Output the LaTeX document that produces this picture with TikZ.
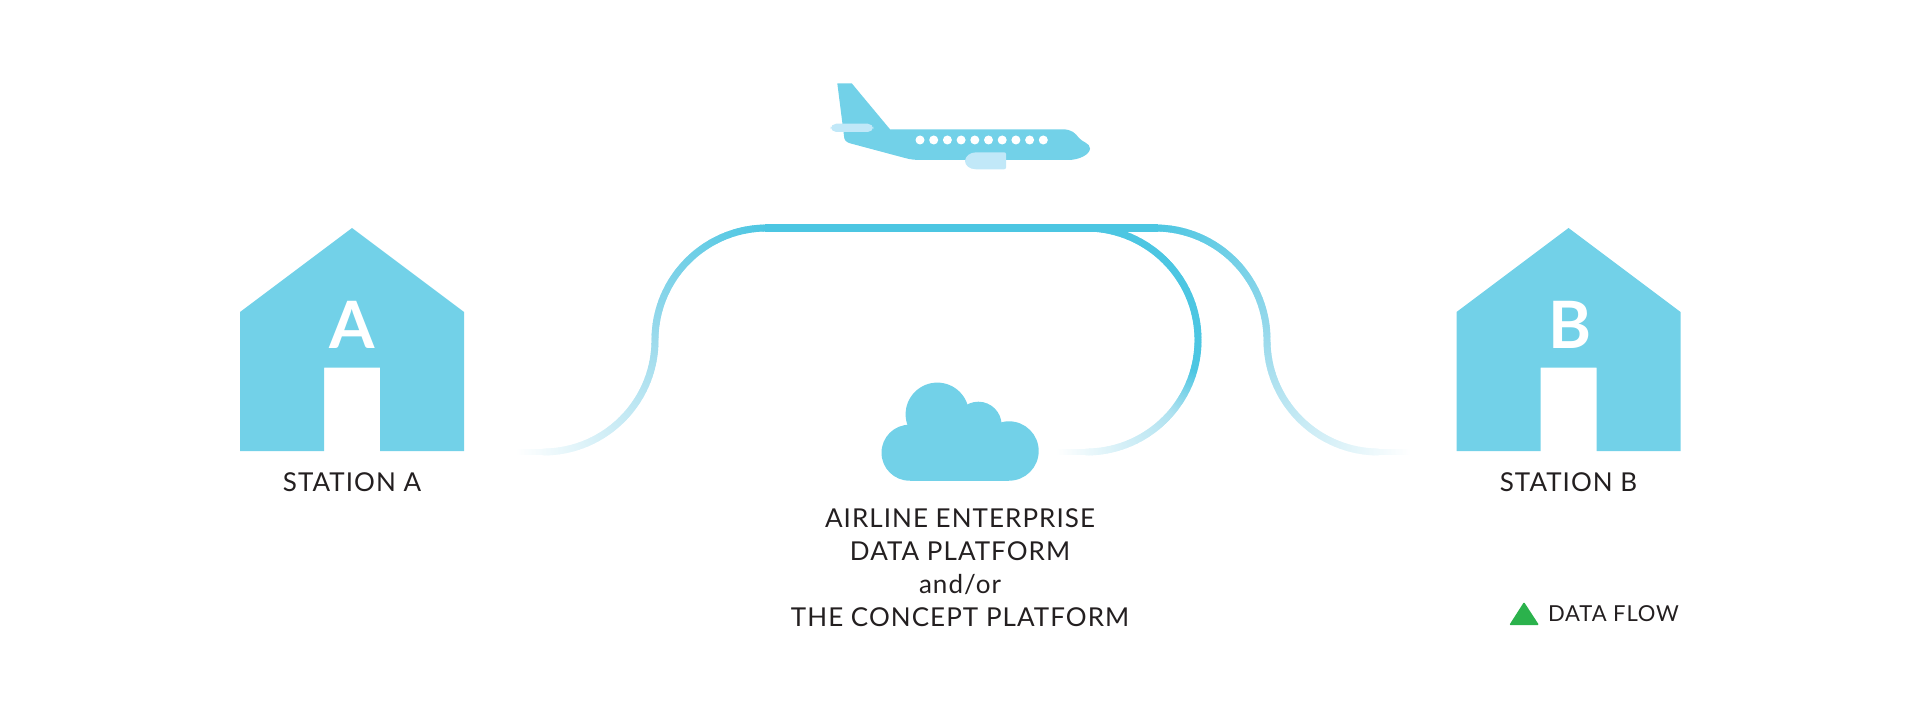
\documentclass[tikz,border=0pt]{standalone}
\usepackage{fontspec}
\setmainfont[LetterSpace=4]{Lato}
\usetikzlibrary{decorations.markings}

\definecolor{housecol}{HTML}{72D1E8}
\definecolor{flowtopcol}{HTML}{4CC6E2}
\definecolor{flowmidcol}{HTML}{9BDAEC}
\definecolor{flowpalecol}{HTML}{B0E2F0}
\definecolor{palecol}{HTML}{C1E8F8}
\definecolor{textcol}{HTML}{231F20}
\definecolor{legendcol}{HTML}{2BB24C}

\newcommand{\flowseg}[3]{%
	\pgfmathsetmacro\segpos{\pgfkeysvalueof{/pgf/decoration/mark info/distance from start}/\pgfdecoratedpathlength}%
	\ifdim\segpos pt<#2pt
		\pgfmathsetmacro\segpct{min(100,100*\segpos/#2)}\colorlet{segcol}{#1!\segpct!white}%
	\else
		\pgfmathsetmacro\segpct{min(100,100*(\segpos-#2)/(#3-#2))}\colorlet{segcol}{flowtopcol!\segpct!#1}%
	\fi
	\draw[segcol,line width=5.2pt] (-0.8pt,0pt) -- (0.8pt,0pt);%
}

\tikzset{
	shapefill/.style={fill=housecol,draw=none},
	palefill/.style={fill=palecol,draw=none},
	flowfade/.style n args={3}{decoration={markings,mark=between positions 0 and 0.995 step 1pt with {\flowseg{#1}{#2}{#3}}},postaction={decorate}},
	flowsolid/.style={draw=flowtopcol,line width=5.6pt},
	stationlabel/.style={text=textcol,font=\fontsize{19.5}{24}\selectfont,inner sep=0pt},
	houseletter/.style={text=white,font=\fontsize{49}{50}\bfseries\selectfont,inner sep=0pt},
}

\begin{document}
\begin{tikzpicture}[x=0.75pt,y=0.75pt,yscale=-1,xscale=1]
	\useasboundingbox (0,0) rectangle (1920,720);

	%Shape: Plane
	\fill [shapefill] (837.3,83.3) -- (851.7,83.3) -- (890,129.3) -- (1062,129.3) .. controls (1072,129.3) and (1075,133) .. (1079,138) .. controls (1082,142) and (1090,143) .. (1090,148.5) .. controls (1090,154) and (1080,160) .. (1068,160) -- (922,160) .. controls (915,160) and (910,159.5) .. (905,158) -- (850,143.3) .. controls (846,142) and (844,140) .. (844,136) -- cycle ;
	\fill [palefill, rounded corners=4.1] (830.7,123.7) rectangle (873.3,132) ;
	\foreach \i in {0,...,9}
		\fill [white] (920+13.7*\i,140) circle [radius=4.5] ;
	\fill [palefill] (1006,154) -- (1006,167.5) .. controls (1006,168.8) and (1005,169.3) .. (1004,169.3) -- (976,169.3) .. controls (969,169.3) and (965,165) .. (965,161) .. controls (965,156.5) and (970,152.3) .. (976,152.3) -- (1004,152.3) .. controls (1005,152.3) and (1006,153) .. (1006,154) -- cycle ;

	%Shape: House A
	\fill [shapefill] (240,451) -- (240,312) -- (352,228) -- (464,312) -- (464,451) -- (380,451) -- (380,367.5) -- (324,367.5) -- (324,451) -- cycle ;
	%Shape: House B
	\fill [shapefill] (1456.5,451) -- (1456.5,312) -- (1568.5,228) -- (1680.5,312) -- (1680.5,451) -- (1596.5,451) -- (1596.5,367.5) -- (1540.5,367.5) -- (1540.5,451) -- cycle ;

	%Shape: Cloud
	\fill [shapefill] (909.5,452.7) circle [radius=28] ;
	\fill [shapefill] (1009,451) circle [radius=29.7] ;
	\fill [shapefill] (937.3,414.3) circle [radius=31.7] ;
	\fill [shapefill] (978.3,425) circle [radius=23.3] ;
	\fill [shapefill] (909.5,425) rectangle (1009,480.7) ;

	% Curve ends
	\coordinate (startA) at (517,452);
	\coordinate (startCloud) at (1057,452);
	\coordinate (startB) at (1410,452);
	\coordinate (topLeft) at (765,228);
	\coordinate (topRight) at (1158,228);

	%Curved Lines
	\path [flowfade={flowpalecol}{0.33}{0.46}] (startCloud) -- (1086,452) arc [start angle=90, end angle=0, radius=112] arc [start angle=0, end angle=-90, radius=112] ;
	\path [flowfade={flowmidcol}{0.54}{1}] (startB) -- (1379,452) arc [start angle=90, end angle=180, radius=112] arc [start angle=0, end angle=-90, radius=112] ;
	\path [flowfade={flowmidcol}{0.54}{1}] (startA) -- (543,452) arc [start angle=90, end angle=0, radius=112] arc [start angle=180, end angle=270, radius=112] ;
	%Straight Lines
	\draw [flowsolid] (topLeft) -- (topRight) ;

	% Text Node
	\node [houseletter] (letterA) at (352,324.7) {A};
	% Text Node
	\node [houseletter] (letterB) at (1570,324.7) {B};
	% Text Node
	\node [stationlabel] (stationA) at (352,481.7) {STATION A};
	% Text Node
	\node [stationlabel] (stationB) at (1568.5,481.7) {STATION B};
	% Text Node
	\node [stationlabel,align=center,font=\fontsize{19.5}{24.75}\selectfont] (platform) at (960,568) {AIRLINE ENTERPRISE\\DATA PLATFORM\\and/or\\THE CONCEPT PLATFORM};

	%Shape: Triangle
	\fill [legendcol,rounded corners=0.8] (1524,602) -- (1539,625) -- (1509.3,625) -- cycle ;
	% Text Node
	\node [stationlabel,font=\fontsize{16.5}{20}\selectfont] (legend) at (1613.5,613.7) {DATA FLOW};
\end{tikzpicture}
\end{document}
